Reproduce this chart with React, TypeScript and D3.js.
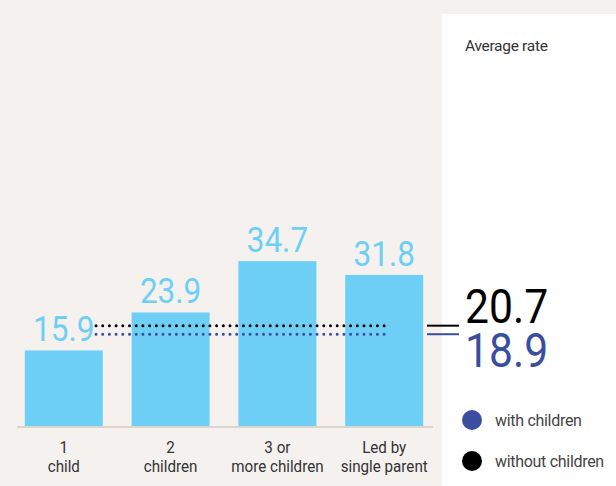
import React from "react";
import * as d3 from "d3";

const categories = ["1|child", "2|children", "3 or|more children", "Led by|single parent"];
const values = [15.9, 23.9, 34.7, 31.8];
const avgWithout = 20.7;
const avgWith = 18.9;
const legendLabels = ["with children", "without children"];
const panelTitle = "Average rate";

const W = 616;
const H = 486;
const FONT = "Roboto, sans-serif";
const BG = "#f4f1ee";
const BAR = "#6dcff6";
const BLUE = "#3a4da0";

export default function App() {
  const x = d3.scaleBand<string>().domain(categories).range([12, 436]).paddingInner(0.27).paddingOuter(0.12);
  const baseY = 426;
  const y = d3.scaleLinear().domain([0, 40]).range([baseY, baseY - 40 * 4.75]);
  const dotX0 = 96;
  const dotX1 = 386;
  const yb = y(avgWithout) - 2;
  const yw = y(avgWith) - 2;
  return (
    <svg width={W} height={H} style={{ position: "absolute", left: 0, top: 0 }} fontFamily={FONT}>
      <rect x={0} y={0} width={W} height={H} fill={BG} />
      <rect x={442} y={14} width={W - 442} height={H - 14} fill="#ffffff" />
      <text x={465} y={51} fontSize={15.5} fill="#333" style={{ letterSpacing: "-0.3px" }}>{panelTitle}</text>
      {categories.map((c, i) => {
        const cx = (x(c) as number) + x.bandwidth() / 2;
        return (
          <g key={c}>
            <rect x={x(c)} y={y(values[i])} width={x.bandwidth()} height={baseY - y(values[i])} fill={BAR} />
            <text transform={`translate(${cx},${y(values[i]) - 9}) scale(0.9,1)`} fontSize={35} fill={BAR} textAnchor="middle">
              {values[i].toFixed(1)}
            </text>
            {c.split("|").map((line, j) => (
              <text key={j} transform={`translate(${cx},${453 + j * 19}) scale(0.92,1)`} fontSize={16.5} fill="#333" textAnchor="middle">
                {line}
              </text>
            ))}
          </g>
        );
      })}
      <line x1={17} x2={433} y1={baseY + 1} y2={baseY + 1} stroke="#ddd5cc" strokeWidth={2} />
      <line x1={dotX0} x2={dotX1} y1={yb} y2={yb} stroke="#000" strokeWidth={3} strokeLinecap="round" strokeDasharray="0 6.7" />
      <line x1={dotX0} x2={dotX1} y1={yw} y2={yw} stroke={BLUE} strokeWidth={3} strokeLinecap="round" strokeDasharray="0 6.7" />
      <line x1={427} x2={459} y1={yb} y2={yb} stroke="#000" strokeWidth={2} />
      <line x1={427} x2={459} y1={yw} y2={yw} stroke={BLUE} strokeWidth={2} />
      <text transform={`translate(465,323) scale(0.87,1)`} fontSize={49} fill="#000">{avgWithout.toFixed(1)}</text>
      <text transform={`translate(465,367) scale(0.87,1)`} fontSize={49} fill={BLUE}>{avgWith.toFixed(1)}</text>
      {legendLabels.map((l, i) => (
        <g key={l}>
          <circle cx={472} cy={420 + i * 41} r={10} fill={i === 0 ? BLUE : "#000"} />
          <text x={495} y={426 + i * 41} fontSize={16} fill="#444" style={{ letterSpacing: "-0.3px" }}>{l}</text>
        </g>
      ))}
    </svg>
  );
}
